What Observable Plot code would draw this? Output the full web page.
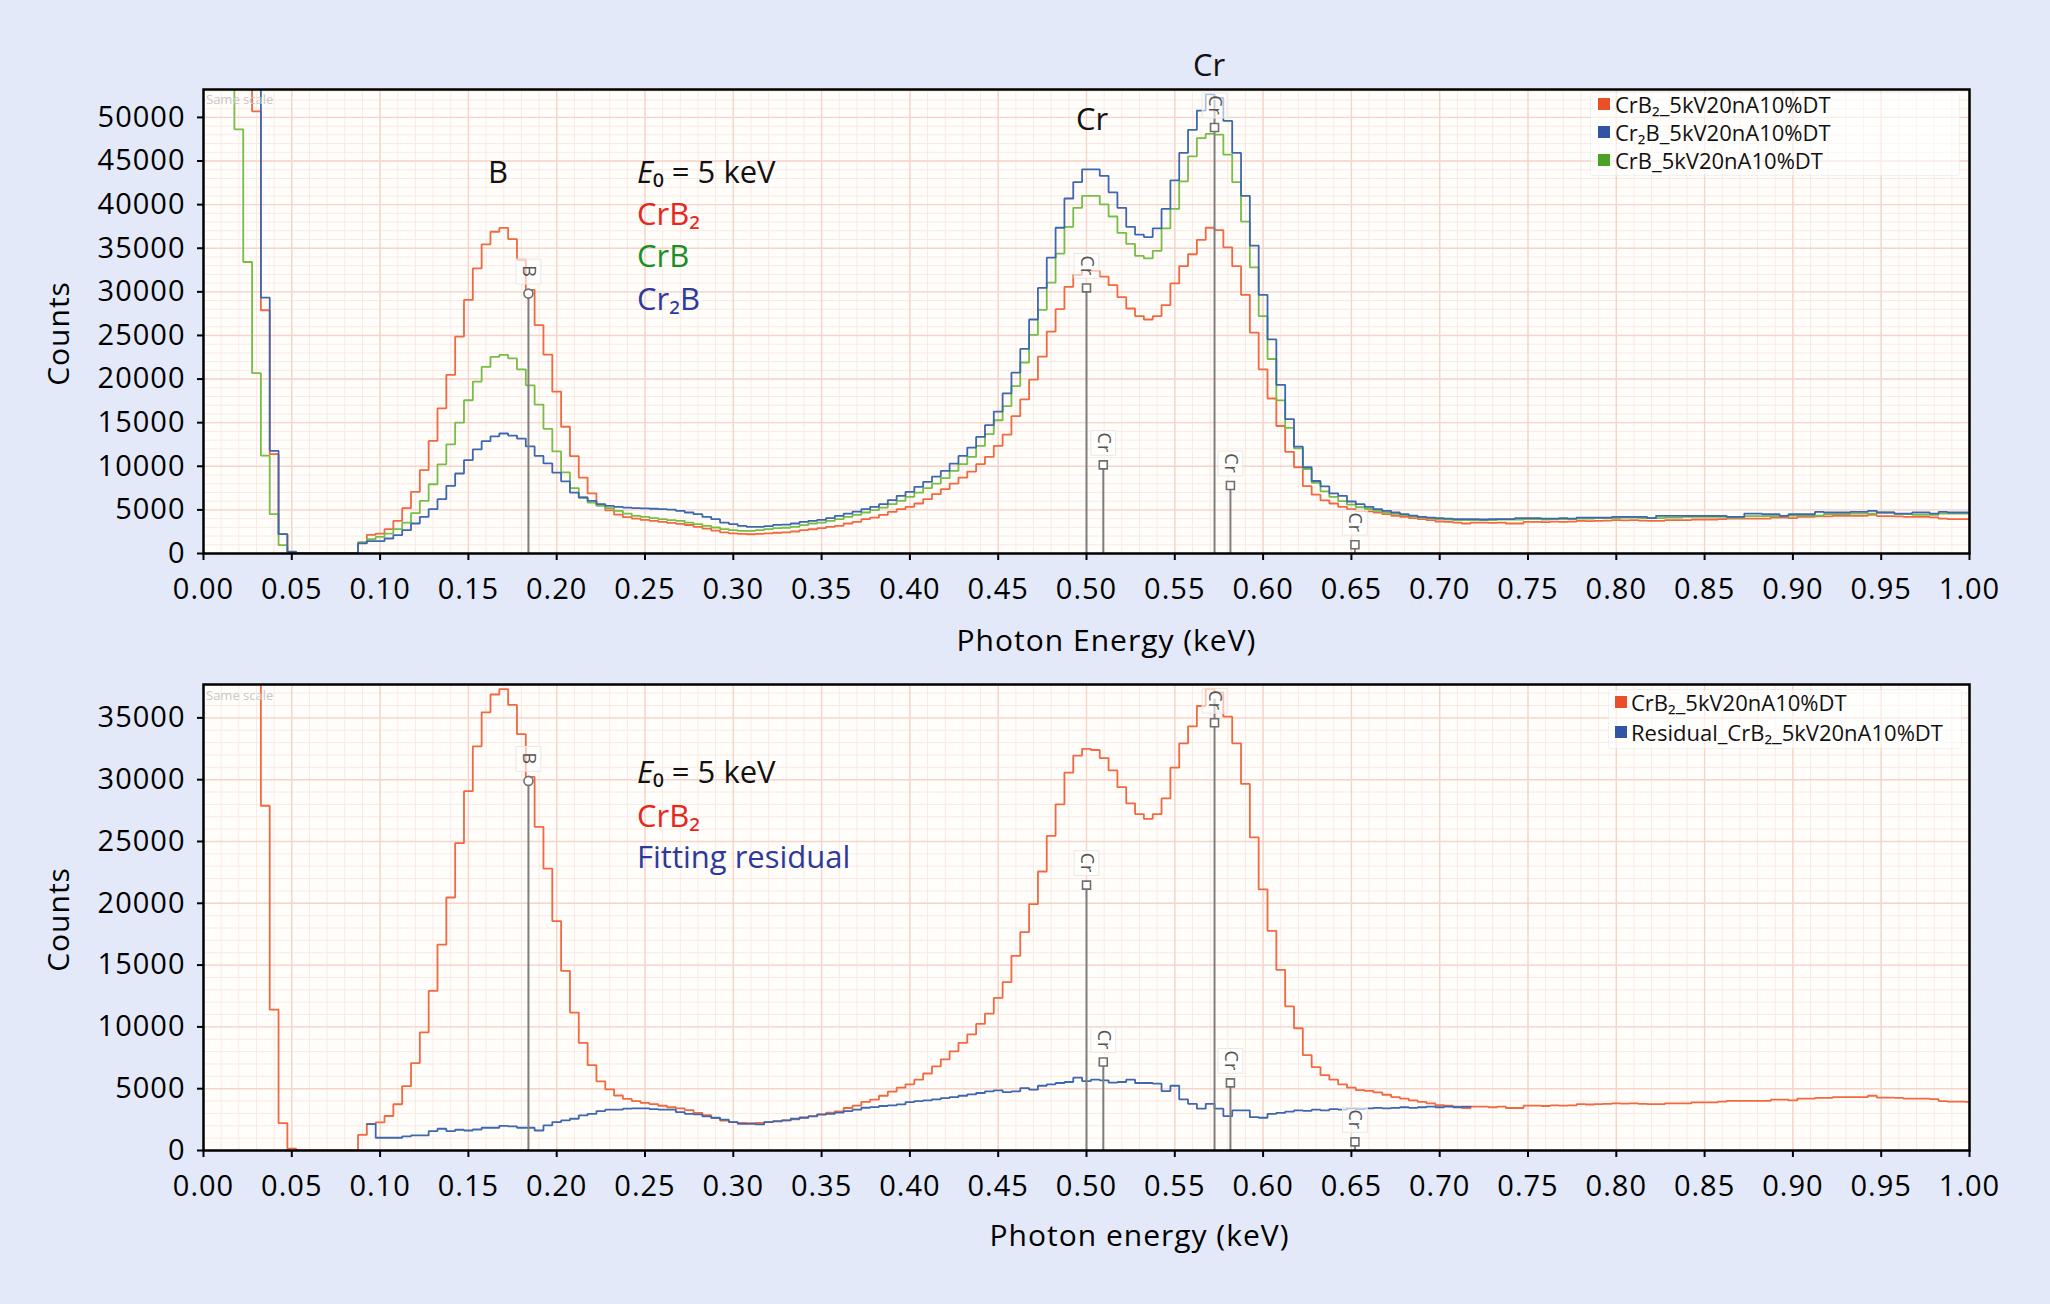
<!DOCTYPE html>
<html>
<head>
<meta charset="utf-8">
<script src="https://cdn.jsdelivr.net/npm/d3@7"></script>
<script src="https://cdn.jsdelivr.net/npm/@observablehq/plot@0.6"></script>
<style>
html, body { margin: 0; padding: 0; background: #e3e9f8; overflow: hidden; }
#page { position: relative; width: 2050px; height: 1304px; overflow: hidden; font-family: "Open Sans", "Noto Sans", sans-serif; }
.abs { position: absolute; white-space: nowrap; line-height: 1; }
.c { transform: translate(-50%, -50%); }
.l { transform: translate(0, -50%); }
.legend { position: absolute; background: rgba(255,255,255,0.55); border: 1px solid rgba(0,0,0,0.05); border-radius: 4px; }
.sw { position: absolute; width: 12px; height: 12px; }
.lt { position: absolute; font-size: 22px; color: #111; white-space: nowrap; line-height: 1; transform: translate(0,-50%); }
.same { position: absolute; font-size: 13px; color: #c8c8c8; line-height: 1; }
</style>
</head>
<body>
<div id="page"></div>
<script>
// ---------------- data ----------------
const binStart = 0.0;      // keV, centre of first bin
const binWidth = 0.005;    // keV

// CrB2_5kV20nA10%DT counts per bin (0.000 ... 1.000 keV)
const crb2 = [
  90000, 90000, 90000, 90000, 90000, 90000, 50700, 27890, 11390, 2220,
  150, 0, 0, 0, 0, 0, 0, 0, 1260, 2140,
  2280, 2790, 3740, 5200, 7070, 9550, 12910, 16650, 20470, 24860,
  29070, 32700, 35450, 36890, 37330, 36050, 33680, 30220, 26180, 22800,
  18560, 14530, 11160, 8700, 6900, 5600, 4950, 4450, 4170, 4000,
  3850, 3750, 3620, 3500, 3400, 3270, 3050, 2860, 2630, 2420,
  2300, 2240, 2210, 2240, 2300, 2380, 2430, 2520, 2670, 2780,
  2910, 3060, 3170, 3440, 3630, 3940, 4120, 4430, 4770, 5080,
  5350, 5730, 6230, 6810, 7380, 8020, 8710, 9390, 10240, 11080,
  12340, 13620, 15750, 17670, 19930, 22570, 25450, 28010, 30570, 31950,
  32500, 32400, 31750, 30760, 29390, 28090, 27220, 26830, 27220, 28480,
  30970, 32940, 34310, 35960, 37350, 37070, 35100, 32940, 29660, 25330,
  21120, 17770, 14620, 11660, 9890, 7720, 6740, 6100, 5730, 5350,
  5080, 4890, 4820, 4700, 4510, 4320, 4200, 4050, 3940, 3820,
  3670, 3630, 3550, 3440, 3550, 3550, 3500, 3550, 3440, 3440,
  3630, 3630, 3600, 3650, 3630, 3650, 3750, 3720, 3750, 3780,
  3820, 3800, 3820, 3780, 3750, 3750, 3820, 3820, 3820, 3900,
  3900, 3900, 3950, 4010, 4010, 4010, 4010, 4010, 4120, 4120,
  4050, 4200, 4200, 4250, 4250, 4320, 4320, 4320, 4320, 4430,
  4280, 4280, 4250, 4200, 4200, 4200, 4150, 4000, 3950, 3950,
  3940
];

// Cr2B_5kV20nA10%DT
const cr2b = [
  90000, 90000, 90000, 90000, 90000, 90000, 90000, 29330, 11770, 2220,
  200, 0, 0, 0, 0, 0, 0, 0, 1150, 1410,
  1410, 1720, 2100, 2670, 3440, 4200, 5080, 6230, 7760, 9170,
  10700, 11930, 12880, 13430, 13760, 13520, 13180, 12280, 11190, 10330,
  9270, 8270, 6990, 6420, 6040, 5660, 5460, 5350, 5270, 5200,
  5170, 5130, 5090, 5020, 4890, 4700, 4510, 4200, 3940, 3550,
  3370, 3170, 3060, 3060, 3130, 3280, 3300, 3440, 3630, 3750,
  3860, 4050, 4320, 4580, 4810, 5080, 5350, 5660, 6120, 6610,
  7070, 7640, 8210, 8820, 9470, 10310, 11190, 12150, 13370, 14710,
  16270, 18360, 20730, 23450, 26830, 30450, 33920, 37350, 40700, 42590,
  44040, 44040, 43300, 41410, 39630, 37460, 36560, 36280, 37270, 39510,
  42780, 45930, 48580, 50780, 52630, 52240, 49600, 45930, 41010, 35300,
  29660, 24540, 19340, 15400, 12250, 9890, 8310, 7700, 6900, 6610,
  5960, 5660, 5350, 5080, 4890, 4700, 4510, 4350, 4200, 4120,
  4050, 4000, 3940, 3940, 3940, 3900, 3940, 3940, 3940, 4050,
  4050, 4050, 4010, 4010, 4050, 4010, 4120, 4120, 4120, 4120,
  4200, 4200, 4200, 4200, 4050, 4320, 4320, 4320, 4320, 4320,
  4320, 4320, 4320, 4200, 4200, 4580, 4580, 4500, 4500, 4320,
  4500, 4500, 4500, 4770, 4700, 4700, 4700, 4770, 4770, 4890,
  4700, 4700, 4580, 4580, 4700, 4700, 4580, 4770, 4700, 4700,
  4700
];

// CrB_5kV20nA10%DT
const crb = [
  90000, 90000, 90000, 90000, 48620, 33420, 20670, 11230, 4510, 960,
  150, 0, 0, 0, 0, 0, 0, 0, 1260, 1640,
  1910, 2280, 2790, 3550, 4620, 6030, 7940, 10230, 12520, 15000,
  17570, 19710, 21390, 22540, 22770, 22370, 21120, 19270, 17080, 14300,
  11700, 9300, 7500, 6420, 5840, 5460, 5200, 4890, 4580, 4320,
  4200, 4060, 3940, 3830, 3750, 3550, 3370, 3170, 2980, 2800,
  2680, 2600, 2600, 2680, 2800, 2900, 2950, 3060, 3250, 3440,
  3550, 3750, 3940, 4200, 4430, 4700, 4970, 5270, 5660, 6040,
  6500, 6990, 7490, 8020, 8640, 9470, 10240, 11080, 12340, 13680,
  15280, 16900, 19200, 21900, 25060, 27930, 31050, 34390, 37460, 39630,
  41010, 41010, 40030, 38640, 36750, 35490, 34120, 33840, 34700, 37270,
  39510, 42670, 45540, 47630, 48110, 48030, 45740, 42590, 38060, 32810,
  27220, 22300, 17560, 14410, 12050, 9690, 8110, 7130, 6500, 6000,
  5600, 5300, 5100, 4900, 4700, 4550, 4400, 4250, 4120, 4050,
  3940, 3900, 3820, 3820, 3820, 3820, 3820, 3900, 3900, 3900,
  3940, 3940, 3900, 3940, 3940, 3940, 4010, 4010, 4050, 4050,
  4050, 4120, 4120, 4050, 4050, 4050, 4120, 4120, 4200, 4200,
  4200, 4200, 4200, 4120, 4120, 4280, 4280, 4280, 4280, 4280,
  4350, 4350, 4350, 4350, 4510, 4510, 4510, 4580, 4580, 4580,
  4700, 4700, 4510, 4510, 4430, 4430, 4430, 4580, 4580, 4580,
  4580
];

// Residual_CrB2_5kV20nA10%DT (bins from 0.095 to 0.715 keV)
const residualStart = 0.095;
const residual = [
  2140, 1030, 1030, 1030, 1140, 1220, 1220, 1570, 1760, 1570, 1680,
  1620, 1700, 1840, 1840, 2000, 1950, 1840, 1840, 1620, 2030,
  2300, 2430, 2570, 2840, 2970, 3190, 3300, 3300, 3380, 3410,
  3410, 3350, 3300, 3300, 3110, 2970, 2920, 2760, 2650, 2490,
  2300, 2160, 2160, 2110, 2300, 2350, 2430, 2570, 2650, 2760,
  2920, 2970, 3060, 3190, 3300, 3460, 3510, 3600, 3650, 3730,
  3920, 4000, 4060, 4140, 4240, 4320, 4430, 4540, 4650, 4790,
  4870, 4730, 4790, 5050, 4920, 5240, 5350, 5460, 5540, 5890,
  5620, 5730, 5680, 5490, 5540, 5730, 5460, 5460, 5410, 4810,
  5240, 4140, 3780, 3380, 3780, 3380, 2780, 3240, 3240, 2700,
  2650, 2970, 3050, 3150, 3250, 3200, 3300, 3250, 3350, 3300,
  3400, 3350, 3400, 3450, 3400, 3450, 3500, 3450, 3500, 3550,
  3500, 3550, 3500, 3550
];

// element line markers
const markerElements = ["B", "Cr", "Cr", "Cr", "Cr", "Cr"];
const markerEnergies = [0.184, 0.500, 0.5095, 0.5725, 0.5815, 0.652];
const markerHeightsTop = [29800, 30450, 10160, 52000, 7800, 1000];
const markerHeightsBottom = [29900, 21470, 7160, 36500, 5470, 700];

// ticks
const xTicks = [0.00, 0.05, 0.10, 0.15, 0.20, 0.25, 0.30, 0.35, 0.40, 0.45, 0.50,
                0.55, 0.60, 0.65, 0.70, 0.75, 0.80, 0.85, 0.90, 0.95, 1.00];
const yTicksTop = [0, 5000, 10000, 15000, 20000, 25000, 30000, 35000, 40000, 45000, 50000];
const yTicksBottom = [0, 5000, 10000, 15000, 20000, 25000, 30000, 35000];

// legends
const legendTop = [
  {name: "CrB₂_5kV20nA10%DT", color: "#e9502a"},
  {name: "Cr₂B_5kV20nA10%DT", color: "#2f55a4"},
  {name: "CrB_5kV20nA10%DT", color: "#4ba323"}
];
const legendBottom = [
  {name: "CrB₂_5kV20nA10%DT", color: "#e9502a"},
  {name: "Residual_CrB₂_5kV20nA10%DT", color: "#2f55a4"}
];

// ---------------- drawing ----------------
const colRed = "#f4683f", colBlue = "#3d68b0", colGreen = "#76be45";
const page = document.getElementById("page");

function stepPoints(values, start) {
  const pts = [];
  values.forEach((v, i) => {
    if (v == null) return;
    const c = start + i * binWidth;
    pts.push({x: c - binWidth / 2, y: v}, {x: c + binWidth / 2, y: v});
  });
  return pts;
}

const xMinor = d3.range(0, 101).map(i => i / 100);

function chart({top, height, marginTop, frameH, yMax, yTicks, lines, heights, xLabel, xLabelDx, xLabelDy, yLabelDy}) {
  const marginBottom = height - marginTop - frameH;
  const yMinor = d3.range(0, Math.floor(yMax / 1000) + 1).map(i => i * 1000);
  const yMajor = yMinor.filter(v => v % 5000 === 0);
  const markers = markerElements.map((el, i) => ({el, x: markerEnergies[i], h: heights[i]}));
  const anchor = d => Math.min(d.h, yMax * 0.918);
  const svg = Plot.plot({
    width: 2050,
    height,
    marginLeft: 203,
    marginRight: 81,
    marginTop,
    marginBottom,
    style: {background: "transparent", fontFamily: "'Open Sans', sans-serif", fontSize: "29px", letterSpacing: "1px", color: "#000", overflow: "visible"},
    x: {domain: [0, 1]},
    y: {domain: [0, yMax]},
    marks: [
      Plot.frame({fill: "#fffefb", stroke: null}),
      Plot.gridX(xMinor, {stroke: "#fbe9e3", strokeOpacity: 1, strokeWidth: 1}),
      Plot.gridY(yMinor, {stroke: "#fbe9e3", strokeOpacity: 1, strokeWidth: 1}),
      Plot.gridX(xTicks, {stroke: "#f6d4ca", strokeOpacity: 1, strokeWidth: 1.4}),
      Plot.gridY(yMajor, {stroke: "#f6d4ca", strokeOpacity: 1, strokeWidth: 1.4}),
      ...lines.map(l => Plot.line(l.pts, {x: "x", y: "y", stroke: l.color, strokeWidth: 1.8, strokeLinejoin: "miter", clip: true})),
      Plot.ruleX(markers, {x: "x", y1: d => 0, y2: d => Math.min(d.h, yMax * 0.99), stroke: "#7f7f7f", strokeWidth: 2}),
      Plot.dot(markers, {x: "x", y: anchor, dy: -22, symbol: "square", r: 14, fill: "white", fillOpacity: 0.6, stroke: "#ebe7e4", strokeWidth: 1}),
      Plot.text(markers, {x: "x", y: anchor, dy: -22, text: "el", rotate: 90, fill: "#555", fontSize: 18, letterSpacing: "0px", textAnchor: "middle", lineAnchor: "middle"}),
      Plot.dot(markers, {x: "x", y: anchor, symbol: d => d.el === "B" ? "circle" : "square", r: 4.5, fill: "white", stroke: "#6f6f6f", strokeWidth: 1.6}),
      Plot.frame({stroke: "#000", strokeWidth: 2.5}),
      Plot.axisX(xTicks, {tickFormat: d3.format(".2f"), tickSize: 7, tickPadding: 18, strokeWidth: 2, label: null, fontSize: 29}),
      Plot.axisY(yTicks, {tickFormat: d3.format("d"), tickSize: 6, tickPadding: 12, strokeWidth: 2, label: null, fontSize: 29}),
      Plot.text([xLabel], {frameAnchor: "bottom", dy: xLabelDy, dx: xLabelDx, text: d => d, fontSize: 30, fill: "#000", letterSpacing: "0.3px", textAnchor: "middle", lineAnchor: "middle"}),
      Plot.text(["Counts"], {frameAnchor: "left", dx: -144, dy: yLabelDy, text: d => d, rotate: -90, fontSize: 30, fill: "#000", letterSpacing: "0.3px", textAnchor: "middle", lineAnchor: "middle"})
    ]
  });
  svg.style.position = "absolute";
  svg.style.left = "0px";
  svg.style.top = top + "px";
  page.appendChild(svg);
}

chart({
  top: 0, height: 670, marginTop: 89, frameH: 464, yMax: 53200, yTicks: yTicksTop,
  lines: [
    {pts: stepPoints(crb2, binStart), color: colRed},
    {pts: stepPoints(crb, binStart), color: colGreen},
    {pts: stepPoints(cr2b, binStart), color: colBlue}
  ],
  heights: markerHeightsTop, xLabel: "Photon Energy (keV)", xLabelDx: 20, xLabelDy: 88, yLabelDy: 12
});

chart({
  top: 670, height: 634, marginTop: 14, frameH: 466, yMax: 37700, yTicks: yTicksBottom,
  lines: [
    {pts: stepPoints(crb2, binStart), color: colRed},
    {pts: stepPoints(residual, residualStart), color: colBlue}
  ],
  heights: markerHeightsBottom, xLabel: "Photon energy (keV)", xLabelDx: 53, xLabelDy: 86, yLabelDy: 2
});

// ---------------- text overlays ----------------
function put(html, x, y, cls, style) {
  const d = document.createElement("div");
  d.className = "abs " + cls;
  d.innerHTML = html;
  d.style.left = x + "px";
  d.style.top = y + "px";
  Object.assign(d.style, style || {});
  page.appendChild(d);
}
const big = {fontSize: "31px", color: "#111"};
put("B", 498, 171, "c", big);
put("Cr", 1092, 118, "c", big);
put("Cr", 1209, 64, "c", big);

const e0 = "<i>E</i>₀ = 5 keV";
const ann = (color) => ({fontSize: "31px", color});
put(e0, 637, 171, "l", ann("#111"));
put("CrB₂", 637, 213, "l", ann("#e5271c"));
put("CrB", 637, 255, "l", ann("#1a8f26"));
put("Cr₂B", 637, 298, "l", ann("#2d3a9c"));

put(e0, 637, 771, "l", ann("#111"));
put("CrB₂", 637, 815, "l", ann("#e5271c"));
put("Fitting residual", 637, 856, "l", ann("#2d3a9c"));

function legend(items, box, swX, txtX, rowYs) {
  const b = document.createElement("div");
  b.className = "legend";
  Object.assign(b.style, {left: box[0] + "px", top: box[1] + "px", width: box[2] + "px", height: box[3] + "px"});
  page.appendChild(b);
  items.forEach((it, i) => {
    const s = document.createElement("div");
    s.className = "sw";
    Object.assign(s.style, {left: swX + "px", top: (rowYs[i] - 6) + "px", background: it.color});
    page.appendChild(s);
    const t = document.createElement("div");
    t.className = "lt";
    t.textContent = it.name;
    Object.assign(t.style, {left: txtX + "px", top: rowYs[i] + "px"});
    page.appendChild(t);
  });
}
legend(legendTop, [1590, 92, 368, 82], 1598, 1615, [104, 132, 160]);
legend(legendBottom, [1608, 689, 352, 58], 1615, 1631, [702, 732]);

const s1 = document.createElement("div"); s1.className = "same"; s1.textContent = "Same scale";
Object.assign(s1.style, {left: "206px", top: "93px"}); page.appendChild(s1);
const s2 = document.createElement("div"); s2.className = "same"; s2.textContent = "Same scale";
Object.assign(s2.style, {left: "206px", top: "689px"}); page.appendChild(s2);
</script>
</body>
</html>
